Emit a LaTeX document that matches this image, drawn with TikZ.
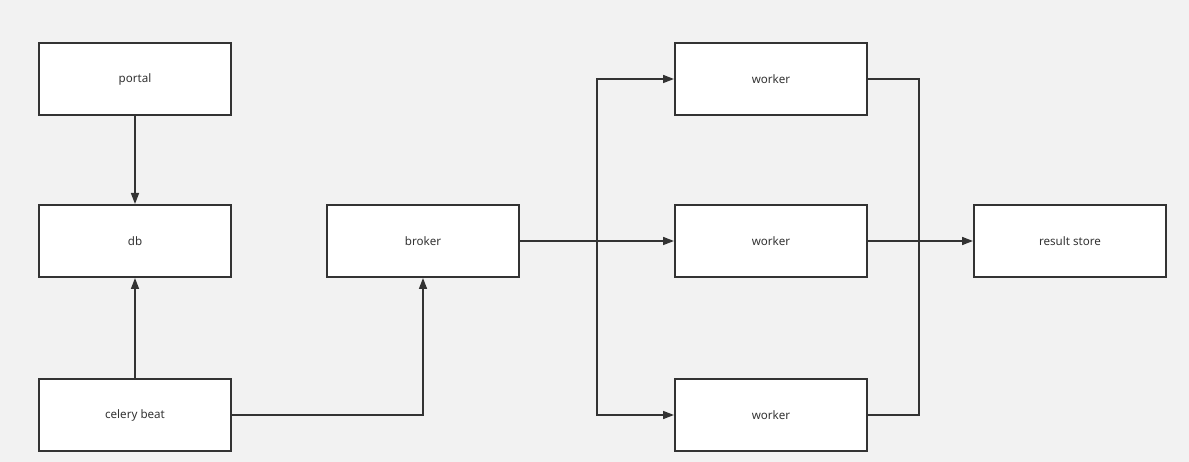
\documentclass[tikz,border=0pt]{standalone}
\usepackage{fontspec}
\setmainfont{Noto Sans}
\usetikzlibrary{arrows.meta}
\definecolor{bgc}{HTML}{F2F2F2}
\definecolor{lnc}{HTML}{333333}
\begin{document}
\begin{tikzpicture}[x=1pt,y=-1pt,
  box/.style={draw=lnc,fill=white,line width=2pt,minimum width=192pt,minimum height=72pt,inner sep=0pt,font=\fontsize{11.6}{13}\selectfont,text=lnc},
  conn/.style={draw=lnc,line width=1.6pt},
  arr/.style={conn,-{Triangle[length=11pt,width=8pt]}}]
\fill[bgc] (0,0) rectangle (1189,462);
\useasboundingbox (0,0) rectangle (1189,462);
\node[box] (portal) at (135,79) {\raisebox{-1pt}{portal}};
\node[box] (db) at (135,241) {\raisebox{-1pt}{db}};
\node[box] (beat) at (135,415) {\raisebox{-1pt}{celery beat}};
\node[box] (broker) at (423,241) {\raisebox{-1pt}{broker}};
\node[box] (w1) at (771,79) {\raisebox{-1pt}{worker}};
\node[box] (w2) at (771,241) {\raisebox{-1pt}{worker}};
\node[box] (w3) at (771,415) {\raisebox{-1pt}{worker}};
\node[box] (store) at (1070,241) {\raisebox{-1pt}{result store}};
\coordinate (split) at (597,241);
\coordinate (join) at (919,241);
\draw[arr] (portal) -- (db);
\draw[arr] (beat) -- (db);
\draw[arr] (beat.east) -| (broker.south);
\draw[arr] (broker) -- (w2);
\draw[arr] (split) |- (w1.west);
\draw[arr] (split) |- (w3.west);
\draw[conn] (w1.east) -| (join);
\draw[conn] (w3.east) -| (join);
\draw[arr] (w2) -- (store);
\end{tikzpicture}
\end{document}
